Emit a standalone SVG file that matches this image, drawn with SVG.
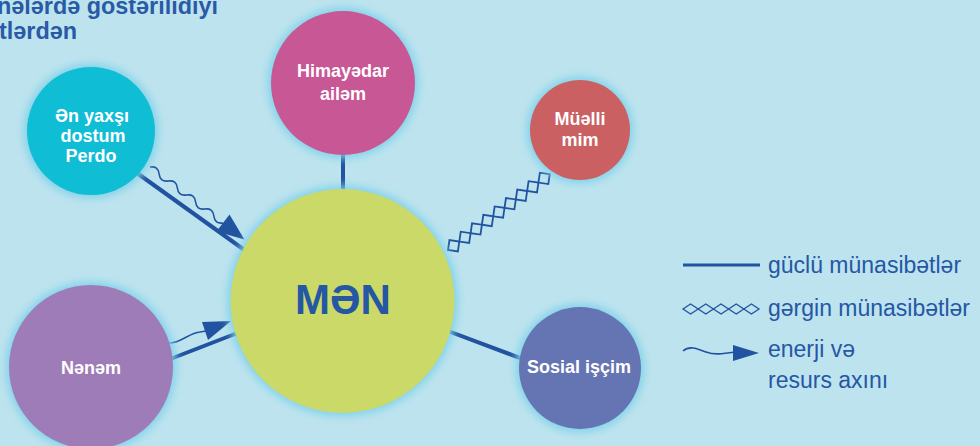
<svg xmlns="http://www.w3.org/2000/svg" width="980" height="446" viewBox="0 0 980 446">
<defs>
<style>
.t{font-family:"Liberation Sans",Arial,sans-serif;font-weight:bold;fill:#ffffff;font-size:18px;text-anchor:middle}
.title{font-family:"Liberation Sans",Arial,sans-serif;font-weight:bold;fill:#2a5aa6;font-size:23.4px}
.leg{font-family:"Liberation Sans",Arial,sans-serif;fill:#2557a4;font-size:23px}
.ln{stroke:#2153a0;stroke-width:4;fill:none}
.wv{stroke:#2153a0;stroke-width:1.6;fill:none}
.ah{fill:#2153a0}
.dm{stroke:#2153a0;stroke-width:1.8;fill:none}
.glow{fill:#7fd2ea;filter:url(#blur)}
</style>
<filter id="blur" x="-30%" y="-30%" width="160%" height="160%"><feGaussianBlur stdDeviation="4"/></filter>
<path id="dia" d="M-7.05,0 L0,-7.05 L7.05,0 L0,7.05 Z"/>
</defs>
<rect width="980" height="446" fill="#bde3ee"/>
<g id="title">
<text class="title" x="-3" y="14">nələrdə göstərilidiyi</text>
<text class="title" x="-1" y="39">tlərdən</text>
</g>
<g id="connectors">
<line class="ln" x1="343" y1="150" x2="343" y2="195"/>
<line class="ln" x1="130" y1="168" x2="250" y2="254"/>
<g transform="translate(150,167) rotate(37.5)">
<path class="wv" d="M0,0 q5.75,-6 11.5,0 t11.5,0 t11.5,0 t11.5,0 t11.5,0 t11.5,0 t11.5,0 t11.5,0"/>
<polygon class="ah" points="92,-10.7 92,10.7 119,0"/>
</g>
<line class="ln" x1="160" y1="363" x2="240" y2="332"/>
<path class="wv" d="M165,343 C180,345 188,333 200,332 L206,331"/>
<polygon class="ah" points="202,322 208,340 231,321"/>
<g transform="translate(448,250) rotate(-36.7)">
<use href="#dia" class="dm" x="7.05"/>
<use href="#dia" class="dm" x="21.15"/>
<use href="#dia" class="dm" x="35.25"/>
<use href="#dia" class="dm" x="49.35"/>
<use href="#dia" class="dm" x="63.45"/>
<use href="#dia" class="dm" x="77.55"/>
<use href="#dia" class="dm" x="91.65"/>
<use href="#dia" class="dm" x="105.75"/>
<use href="#dia" class="dm" x="119.85"/>
</g>
<line class="ln" x1="440" y1="328" x2="528" y2="361"/>
</g>
<g id="node-himayedar">
<circle class="glow" cx="343" cy="83" r="75"/>
<circle cx="343" cy="83" r="72" fill="#c85795"/>
<text class="t" x="343" y="77">Himayədar</text>
<text class="t" x="343" y="100">ailəm</text>
</g>
<g id="node-perdo">
<circle class="glow" cx="91" cy="131" r="67"/>
<circle cx="91" cy="131" r="64" fill="#0fbdd5"/>
<text class="t" x="92" y="122">Ən yaxşı</text>
<text class="t" x="93" y="142">dostum</text>
<text class="t" x="91" y="162">Perdo</text>
</g>
<g id="node-muellim">
<circle class="glow" cx="580" cy="130" r="53"/>
<circle cx="580" cy="130" r="50" fill="#cb6062"/>
<text class="t" x="580" y="125">Müəlli</text>
<text class="t" x="580" y="146">mim</text>
</g>
<g id="node-men">
<circle class="glow" cx="342.5" cy="301" r="115"/>
<circle cx="342.5" cy="301" r="112" fill="#cad967"/>
<text x="343" y="314" font-family="Liberation Sans, Arial, sans-serif" font-weight="bold" font-size="42" fill="#2557a4" text-anchor="middle">MƏN</text>
</g>
<g id="node-nenem">
<circle class="glow" cx="91" cy="367" r="85"/>
<circle cx="91" cy="367" r="82" fill="#9e7cb8"/>
<text class="t" x="91" y="374">Nənəm</text>
</g>
<g id="node-sosial">
<circle class="glow" cx="580" cy="368" r="64"/>
<circle cx="580" cy="368" r="61" fill="#6574b3"/>
<text class="t" x="579" y="373">Sosial işçim</text>
</g>
<g id="legend">
<line x1="683" y1="265" x2="760" y2="265" stroke="#2153a0" stroke-width="3"/>
<text class="leg" x="768" y="273">güclü münasibətlər</text>
<g stroke="#2153a0" stroke-width="1.3" fill="none">
<path d="M683,309 L690.6,304 L698.2,309 L690.6,314 Z"/>
<path d="M698.2,309 L705.8,304 L713.4,309 L705.8,314 Z"/>
<path d="M713.4,309 L721,304 L728.6,309 L721,314 Z"/>
<path d="M728.6,309 L736.2,304 L743.8,309 L736.2,314 Z"/>
<path d="M743.8,309 L751.4,304 L759,309 L751.4,314 Z"/>
</g>
<text class="leg" x="768" y="316">gərgin münasibətlər</text>
<path class="wv" d="M683,351 C690,345 698,349 706,352 C714,355 722,354 735,352"/>
<polygon class="ah" points="733,345 733,361 759,353"/>
<text class="leg" x="768" y="357">enerji və</text>
<text class="leg" x="768" y="388">resurs axını</text>
</g>
</svg>
